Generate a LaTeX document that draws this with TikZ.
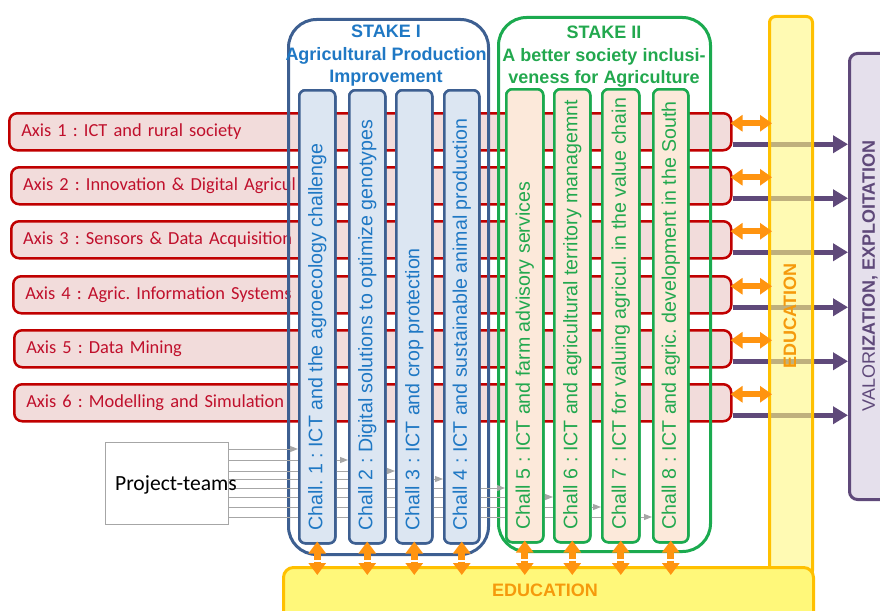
\documentclass[tikz,border=0pt]{standalone}
\usepackage{fontspec}
\setmainfont{Liberation Sans}
\newfontfamily\calib{Carlito}
\usetikzlibrary{arrows.meta}
\frenchspacing
\definecolor{axfill}{HTML}{F2DCDB}
\definecolor{axline}{HTML}{C00000}
\definecolor{axtext}{HTML}{C0102C}
\definecolor{bline}{HTML}{3D5F91}
\definecolor{bfill}{HTML}{DCE6F2}
\definecolor{btext}{HTML}{1F78C4}
\definecolor{gline}{HTML}{1BAA4F}
\definecolor{gfill}{HTML}{FCE9DA}
\definecolor{gtext}{HTML}{22A84E}
\definecolor{orng}{HTML}{FF9410}
\definecolor{edfill}{HTML}{FFF87A}
\definecolor{edvfill}{HTML}{FFF680}
\definecolor{edline}{HTML}{FFC000}
\definecolor{edtext}{HTML}{F59A0C}
\definecolor{purp}{HTML}{5F497A}
\definecolor{vfill}{HTML}{E5E0EC}
\definecolor{grayln}{HTML}{A6A6A6}
\begin{document}
\frenchspacing
\begin{tikzpicture}[x=1pt,y=-1pt,
 axisbox/.style={draw=axline, fill=axfill, line width=2.5pt, rounded corners=8pt, anchor=north west, minimum height=37pt, inner xsep=12pt, inner ysep=0pt, align=left, text=axtext, font=\calib\fontsize{18.4}{22}\selectfont\frenchspacing},
 stakeI/.style={draw=bline, line width=3pt, rounded corners=28pt, anchor=north west, inner sep=0pt},
 stakeII/.style={draw=gline, line width=3pt, rounded corners=28pt, anchor=north west, inner sep=0pt},
 colI/.style={draw=bline, fill=bfill, line width=2.5pt, rounded corners=6pt, anchor=north west, inner sep=0pt, minimum height=453pt},
 colII/.style={draw=gline, fill=gfill, line width=2.5pt, rounded corners=6pt, anchor=north west, inner sep=0pt, minimum height=453pt},
 ctext/.style={rotate=90, anchor=west, inner sep=0pt, font=\fontsize{19.6}{22}\selectfont\frenchspacing},
 stitle/.style={align=center, inner sep=0pt, font=\fontsize{18}{22.5}\selectfont\bfseries},
 purparrow/.style={draw=purp, line width=5pt, -{Triangle[width=17pt,length=15pt]}},
 orarrow/.style={draw=orng, line width=6pt, {Triangle[width=16pt,length=12pt]}-{Triangle[width=16pt,length=12pt]}},
 orhalf/.style={draw=orng, line width=7pt, -{Triangle[width=17pt,length=12pt]}},
 ptline/.style={draw=grayln, line width=1pt, -{Triangle[width=6pt,length=8pt]}},
 edtxt/.style={text=edtext, font=\fontsize{18}{20}\selectfont\bfseries, inner sep=0pt},
]
\useasboundingbox (0,0) rectangle (880,610);
\clip (0,0) rectangle (880,610);

% valorization box
\node[draw=purp, fill=vfill, line width=3pt, rounded corners=8pt, anchor=north west, minimum width=60pt, minimum height=446pt, inner sep=0pt] (val) at (848,52) {};

% axes
\node[axisbox, text width=698pt] (ax1) at (8,112) {Axis 1 : ICT and rural society};
\node[axisbox, text width=696pt] (ax2) at (10,166) {Axis 2 : Innovation \& Digital Agricul};
\node[axisbox, text width=696pt] (ax3) at (10,220) {Axis 3 : Sensors \& Data Acquisition};
\node[axisbox, text width=694pt] (ax4) at (12,275) {Axis 4 : Agric. Information Systems};
\node[axisbox, text width=693pt] (ax5) at (13,329) {Axis 5 : Data Mining};
\node[axisbox, text width=693pt] (ax6) at (13,383) {Axis 6 : Modelling and Simulation};

% purple arrows to valorization
\foreach \i in {1,...,6} {
  \coordinate (p\i) at ([yshift=-12.5pt]ax\i.east);
  \draw[purparrow] (p\i) -- (p\i -| val.west);
}

% stakes
\node[stakeI, minimum width=200pt, minimum height=535pt] (s1) at (287,18) {};
\node[stakeII, minimum width=212pt, minimum height=534pt] (s2) at (497,16) {};
\node[stitle, text=btext] (ti1) at (386,56) {STAKE I\\Agricultural Production\\Improvement};
\node[stitle, text=gtext] (ti2) at (604,57) {STAKE II\\A better society inclusi-\\veness for Agriculture};

% project teams
\node[draw=grayln, line width=1pt, fill=white, anchor=north west, minimum width=123pt, minimum height=82pt, inner sep=0pt] (pt) at (105,442) {};

% column positions (needed for the line ends)
\path
  node[colI, minimum width=36pt] (c1) at (298,89) {}
  node[colI, minimum width=36pt] (c2) at (348,89) {}
  node[colI, minimum width=36pt] (c3) at (395,89) {}
  node[colI, minimum width=35pt] (c4) at (443,89) {};
\path
  node[colII, minimum width=37pt] (c5) at (505,88) {}
  node[colII, minimum width=36pt] (c6) at (553,88) {}
  node[colII, minimum width=37pt] (c7) at (601,88) {}
  node[colII, minimum width=35pt] (c8) at (652,88) {};

\foreach \y [count=\i] in {449,460,471,479,488,497,507,517} {
  \coordinate (q\i) at (228,\y);
}
\foreach \i in {1,...,8} {
  \draw[ptline] (q\i) -- (q\i -| c\i.west);
}
% columns drawn over the lines
\node[colI, minimum width=36pt] (cc1) at (298,89) {};
\node[colI, minimum width=36pt] (cc2) at (348,89) {};
\node[colI, minimum width=36pt] (cc3) at (395,89) {};
\node[colI, minimum width=35pt] (cc4) at (443,89) {};
\node[colII, minimum width=37pt] (cc5) at (505,88) {};
\node[colII, minimum width=36pt] (cc6) at (553,88) {};
\node[colII, minimum width=37pt] (cc7) at (601,88) {};
\node[colII, minimum width=35pt] (cc8) at (652,88) {};

\node[ctext, text=btext] (t1) at ([yshift=14pt]c1.south) {Chall. 1 : ICT and the agroecology challenge};
\node[ctext, text=btext] (t2) at ([yshift=14pt]c2.south) {Chall 2 : Digital solutions to optimize genotypes};
\node[ctext, text=btext] (t3) at ([yshift=14pt]c3.south) {Chall 3 : ICT and crop protection};
\node[ctext, text=btext] (t4) at ([yshift=14pt]c4.south) {Chall 4 : ICT and sustainable animal production};
\node[ctext, text=gtext] (t5) at ([yshift=14pt]c5.south) {Chall 5 : ICT and farm advisory services};
\node[ctext, text=gtext] (t6) at ([yshift=14pt]c6.south) {Chall 6 : ICT and agricultural territory managemnt};
\node[ctext, text=gtext] (t7) at ([yshift=14pt]c7.south) {Chall 7 : ICT for valuing agricul. in the value chain};
\node[ctext, text=gtext] (t8) at ([yshift=14pt]c8.south) {Chall 8 : ICT and agric. development in the South};

\node[font=\calib\fontsize{21.6}{24}\selectfont, inner sep=0pt] (ptt) at (176,485) {Project-teams};

% education bars
\node[draw=edline, line width=3pt, fill=edvfill, fill opacity=0.6, rounded corners=6pt, anchor=north west, minimum width=43pt, minimum height=560pt, inner sep=0pt] (ev) at (768,15) {};
\node[rotate=90, edtxt] (evt) at (790,316) {EDUCATION};
\node[draw=edline, line width=3pt, fill=edfill, rounded corners=10pt, anchor=north west, minimum width=530pt, minimum height=60pt, inner sep=0pt] (eh) at (282,566) {};
\node[edtxt] (eht) at (545,590) {EDUCATION};

% orange arrows axes <-> education
\foreach \i in {1,...,6} {
  \coordinate (o\i) at ([yshift=8.5pt]ax\i.east);
  \draw[orarrow, shorten >=-4pt, shorten <=-2pt] (o\i) -- (o\i -| ev.west);
}
% orange arrows challenges <-> education
\foreach \i in {1,...,8} {
  \coordinate (d\i) at (c\i.south |- eh.north);
  \draw[orhalf] ([yshift=-15pt]c\i.south) -- ([yshift=3pt]c\i.south);
  \draw[orhalf] ([yshift=-17pt]c\i.south) -- ([yshift=-9pt]d\i);
}

\node[rotate=90, text=purp, font=\fontsize{18}{20}\selectfont, inner sep=0pt] (valt) at (870,276) {VALOR\textbf{IZATION, EXPLOITATION}};
\end{tikzpicture}
\end{document}
